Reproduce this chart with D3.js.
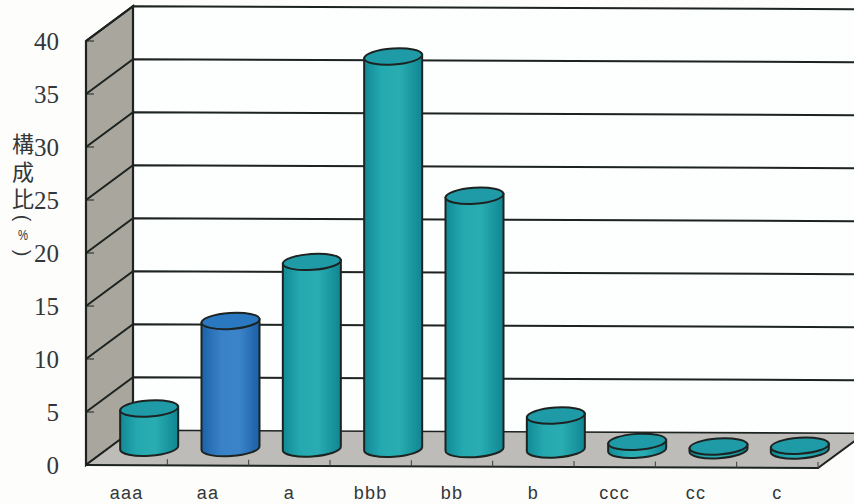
<!DOCTYPE html>
<html><head><meta charset="utf-8">
<script src="https://cdn.jsdelivr.net/npm/d3@7"></script>
<style>html,body{margin:0;padding:0;background:#fdfdfb;overflow:hidden}svg{display:block}</style>
</head><body><svg id="c" width="854" height="504"></svg>
<script>
const categories=["aaa","aa","a","bbb","bb","b","ccc","cc","c"];
const values=[3.7,12,17.6,37,23.9,3.2,0.75,0.35,0.45];
const highlighted=["aa"];
const yTicks=[0,5,10,15,20,25,30,35,40];
const titleText="構成比";

const W=854,H=504;
const svg=d3.select("#c");
const x=d3.scaleBand().domain(categories).range([86,818]);
const y=d3.scaleLinear().domain([0,40]).range([465,41]);
const depthX=47,depthY=-35;
const ink="#1c2320";

const defs=svg.append("defs");
function grad(id,stops){
  const g=defs.append("linearGradient").attr("id",id).attr("x1",0).attr("x2",1).attr("y1",0).attr("y2",0);
  stops.forEach(([o,c])=>g.append("stop").attr("offset",o).attr("stop-color",c));
}
grad("teal",[[0,"#118a96"],[0.3,"#25a9b0"],[0.6,"#29adb2"],[1,"#108693"]]);
grad("blue",[[0,"#1c62a8"],[0.35,"#3a82c8"],[0.65,"#3c84ca"],[1,"#1b5fa6"]]);

// whole plot carries the scan's slight tilt; verticals stay vertical
const plot=svg.append("g").attr("transform","translate(86,465) skewX(0) skewY(0.24) translate(-86,-465)");
const y0=y(0),y40=y(40);
const xL=86,xR=818;

plot.append("rect").attr("x",xL+depthX).attr("y",y40+depthY).attr("width",W+20-xL-depthX).attr("height",y0-y40).attr("fill","#fdfefe");
// left wall
plot.append("path").attr("d",d3.line()([[xL,y0],[xL,y40],[xL+depthX,y40+depthY],[xL+depthX,y0+depthY]])+"Z")
  .attr("fill","#a9a69d").attr("stroke",ink).attr("stroke-width",2.2);
// floor
plot.append("path").attr("d",d3.line()([[xL,y0],[xL+depthX,y0+depthY],[xR+depthX,y0+depthY],[xR,y0]])+"Z")
  .attr("fill","#bdbcb8");
plot.append("path").attr("d",d3.line()([[xL,y0],[xR,y0],[xR+depthX,y0+depthY]])).attr("stroke",ink).attr("stroke-width",2).attr("fill","none");

// gridlines
yTicks.forEach(t=>{
  const py=y(t);
  plot.append("path").attr("d",d3.line()([[xL,py],[xL+depthX,py+depthY],[W+20,py+depthY]]))
    .attr("fill","none").attr("stroke",ink).attr("stroke-width",t===0?1.6:2);
  if(t>0) plot.append("line").attr("x1",xL).attr("x2",xL+8).attr("y1",py).attr("y2",py).attr("stroke",ink).attr("stroke-width",1);
});
// x ticks on the floor edge
categories.forEach(c=>{
  const px=x(c)+x.bandwidth();
  plot.append("line").attr("x1",px).attr("x2",px).attr("y1",y0).attr("y2",y0-6).attr("stroke","#3a3d3a").attr("stroke-width",1);
});

// cylinders
const rx=29,ry=8,skew=-4;
categories.forEach((c,i)=>{
  const cx=x(c)+x.bandwidth()/2+depthX/2-1;
  const base=y(0)+depthY/2;
  const h=y(0)-y(values[i]);
  const topY=base-h;
  const tilt=Math.tan(skew*Math.PI/180)*rx;
  const isHi=highlighted.includes(c);
  const g=plot.append("g").attr("stroke",ink).attr("stroke-width",2);
  g.append("path")
    .attr("d",`M${cx-rx},${topY-tilt} L${cx-rx},${base-tilt} A${rx},${ry} ${skew} 0 0 ${cx+rx},${base+tilt} L${cx+rx},${topY+tilt} Z`)
    .attr("fill",`url(#${isHi?"blue":"teal"})`);
  g.append("ellipse").attr("transform",`rotate(${skew} ${cx} ${topY})`)
    .attr("cx",cx).attr("cy",topY).attr("rx",rx).attr("ry",ry)
    .attr("fill",isHi?"#2a79c0":"#1f9ba8");
});

// y tick labels
svg.append("g").selectAll("text").data(yTicks).join("text")
  .attr("x",59).attr("y",d=>y(d)).attr("dy","0.35em").attr("text-anchor","end")
  .attr("font-family","'Liberation Serif',serif").attr("font-size",25).attr("fill","#33373a")
  .text(d=>d);
// x labels
svg.append("g").selectAll("text").data(categories).join("text")
  .attr("x",d=>x(d)+x.bandwidth()/2).attr("y",499).attr("text-anchor","middle")
  .attr("font-family","'Liberation Sans',sans-serif").attr("font-size",18).attr("letter-spacing",1.2).attr("fill","#33373a")
  .text(d=>d);
// y title, set vertically
svg.append("text").attr("x",23).attr("y",133)
  .style("writing-mode","vertical-rl")
  .attr("letter-spacing",5.5)
  .attr("font-family","'Noto Sans CJK JP',sans-serif").attr("font-size",22).attr("fill","#33373a")
  .text(titleText);
svg.append("text").attr("x",0).attr("y",0).attr("transform","translate(23,240) scale(0.75,1)").attr("text-anchor","middle")
  .attr("font-family","'Liberation Sans',sans-serif").attr("font-size",15).attr("fill","#33373a").text("%");
[[23,218,"("],[23,253,")"]].forEach(([a,b,t])=>{
  svg.append("text").attr("transform",`translate(${a},${b}) rotate(90)`).attr("text-anchor","middle").attr("dy","0.35em")
    .attr("font-family","'Liberation Sans',sans-serif").attr("font-size",20).attr("fill","#33373a").text(t);
});
</script></body></html>
